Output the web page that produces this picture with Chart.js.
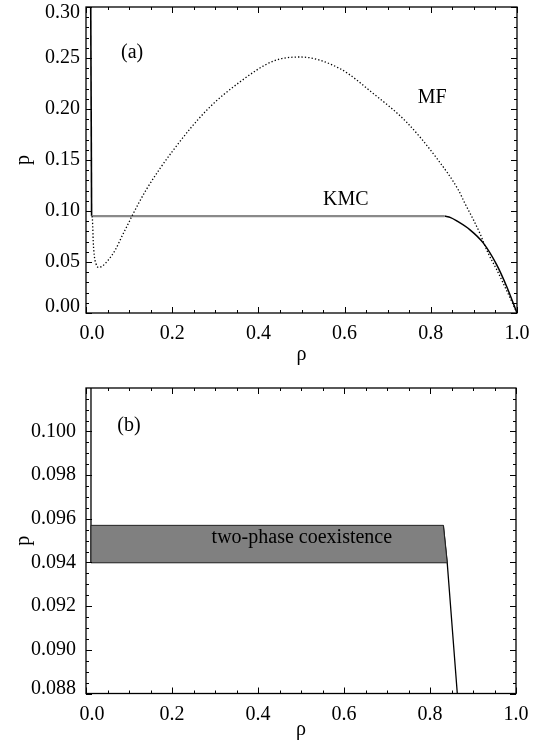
<!DOCTYPE html>
<html>
<head>
<meta charset="utf-8">
<title>p versus rho</title>
<script src="https://cdn.jsdelivr.net/npm/chart.js@4.4.1/dist/chart.umd.min.js"></script>
<style>
  html, body { margin: 0; padding: 0; background: #fff; }
  body { width: 534px; height: 746px; position: relative; overflow: hidden; }
  canvas { position: absolute; left: 0; }
  #chartA { top: 0; }
  #chartB { top: 372px; }
</style>
</head>
<body>
<canvas id="chartA" width="534" height="372"></canvas>
<canvas id="chartB" width="534" height="374"></canvas>
<script>

// ---- panel (a) data ----
// mean field curve (dotted)
var mfRho = [0.014, 0.015, 0.0168, 0.019, 0.0227, 0.029, 0.0366, 0.052, 0.068, 0.083,
             0.0985, 0.106, 0.14, 0.2026, 0.28, 0.357, 0.435, 0.497, 0.589, 0.667,
             0.744, 0.814, 0.864, 0.879, 0.899, 0.914, 0.933, 0.953, 0.976, 1.0];
var mfP   = [0.095, 0.0913, 0.070, 0.057, 0.0489, 0.0446, 0.0456, 0.0521, 0.0619, 0.0749,
             0.088, 0.0945, 0.121, 0.1597, 0.1988, 0.2265, 0.247, 0.251, 0.2396, 0.215,
             0.187, 0.1516, 0.1206, 0.1076, 0.0913, 0.078, 0.0587, 0.0424, 0.022, 0.0];

// KMC: low density branch, coexistence line, high density branch
var kmcGasRho = [0.011, 0.013];
var kmcGasP   = [0.30, 0.095];
var kmcCoexRho = [0.013, 0.832];
var kmcCoexP   = [0.095, 0.095];
var kmcDenseRho = [0.832, 0.846, 0.860, 0.891, 0.922, 0.953, 0.976, 1.0];
var kmcDenseP   = [0.095, 0.0935, 0.0903, 0.0815, 0.0685, 0.0472, 0.026, 0.0];

// ---- panel (b) data ----
var bGasRho = [0.0116, 0.0116];
var bGasP   = [0.103, 0.094];
var bBandRho = [0.0116, 0.0116, 0.831, 0.840];
var bBandP   = [0.094, 0.0957, 0.0957, 0.094];
var bLowRho = [0.0116, 0.840];
var bLowP   = [0.094, 0.094];
var bDenseRho = [0.831, 0.840, 0.8635];
var bDenseP   = [0.0957, 0.094, 0.088];

// axis ticks
var xTicksA = [0, 1, 0.2];          // min, max, step
var yTicksA = [0, 0.30, 0.05];
var xTicksB = [0, 1, 0.2];
var yTicksB = [0.088, 0.10199, 0.002];

var serif = "'Liberation Serif', 'DejaVu Serif', serif";

function pts(xs, ys) {
  var out = [];
  for (var i = 0; i < xs.length; i++) {
    out.push({x: xs[i], y: ys[i]});
  }
  return out;
}

// box round the plot and inward major/minor ticks on all four sides (IDL style)
var frameTicks = {
  id: 'frameTicks',
  afterDatasetsDraw: function(chart, args, opts) {
    var ctx = chart.ctx, a = chart.chartArea;
    var xs = chart.scales.x, ys = chart.scales.y;
    var k, k0, k1, px, len;
    ctx.save();
    ctx.strokeStyle = '#000';
    ctx.lineWidth = 1;
    ctx.beginPath();
    k0 = Math.ceil(xs.min / opts.xMinor - 1e-6);
    k1 = Math.floor(xs.max / opts.xMinor + 1e-6);
    for (k = k0; k <= k1; k++) {
      px = Math.round(xs.getPixelForValue(k * opts.xMinor)) + 0.5;
      len = (k % opts.xEvery === 0) ? 6 : 3;
      ctx.moveTo(px, a.bottom); ctx.lineTo(px, a.bottom - len);
      ctx.moveTo(px, a.top); ctx.lineTo(px, a.top + len);
    }
    k0 = Math.ceil(ys.min / opts.yMinor - 1e-6);
    k1 = Math.floor(ys.max / opts.yMinor + 1e-6);
    for (k = k0; k <= k1; k++) {
      px = Math.round(ys.getPixelForValue(k * opts.yMinor)) + 0.5;
      len = (k % opts.yEvery === 0) ? 6 : 3;
      ctx.moveTo(a.left, px); ctx.lineTo(a.left + len, px);
      ctx.moveTo(a.right, px); ctx.lineTo(a.right - len, px);
    }
    ctx.stroke();
    ctx.lineWidth = 1.3;
    ctx.strokeRect(a.left, a.top, a.right - a.left, a.bottom - a.top);
    ctx.restore();
  }
};

// nudge the labels that sit on the corners inward, like IDL does
var edgeLabels = {
  id: 'edgeLabels',
  beforeDraw: function(chart, args, opts) {
    var xi = chart.scales.x.getLabelItems();
    var yi = chart.scales.y.getLabelItems();
    if (xi.length) xi[0].options.translation[0] += opts.xFirst;
    if (yi.length) {
      yi[0].options.translation[1] += opts.yFirst;
      yi[yi.length - 1].options.translation[1] += opts.yLast;
    }
  }
};

// text labels placed in data coordinates
var textLabels = {
  id: 'textLabels',
  afterDraw: function(chart, args, opts) {
    var ctx = chart.ctx;
    ctx.save();
    ctx.fillStyle = '#000';
    ctx.font = '20px ' + serif;
    ctx.textAlign = 'center';
    ctx.textBaseline = 'middle';
    for (var i = 0; i < opts.items.length; i++) {
      var t = opts.items[i];
      ctx.fillText(t.text, chart.scales.x.getPixelForValue(t.x), chart.scales.y.getPixelForValue(t.y));
    }
    ctx.restore();
  }
};

function makeOptions(xt, yt, yDigits, pad, xHeight, yLabelPad, ticksCfg, edges, labels) {
  return {
    responsive: false,
    animation: false,
    devicePixelRatio: 1,
    events: [],
    layout: { padding: pad },
    plugins: {
      legend: { display: false },
      tooltip: { enabled: false },
      frameTicks: ticksCfg,
      edgeLabels: edges,
      textLabels: { items: labels }
    },
    scales: {
      x: {
        type: 'linear',
        min: xt[0], max: xt[1],
        grid: { display: false, drawTicks: false },
        border: { display: false },
        ticks: {
          stepSize: xt[2], includeBounds: false, padding: 9, color: '#000',
          maxRotation: 0, font: { family: serif, size: 20 },
          callback: function(v) { return v.toFixed(1); }
        },
        title: { display: true, text: 'ρ', color: '#000', font: { family: serif, size: 20 },
                 padding: { top: 0, bottom: xHeight[1] } },
        afterFit: function(s) { s.height = xHeight[0]; s.paddingLeft = 0; s.paddingRight = 0; }
      },
      y: {
        type: 'linear',
        min: yt[0], max: yt[1],
        grid: { display: false, drawTicks: false },
        border: { display: false },
        ticks: {
          stepSize: yt[2], includeBounds: false, padding: yLabelPad, color: '#000',
          font: { family: serif, size: 20 },
          callback: function(v) { return v.toFixed(yDigits); }
        },
        title: { display: true, text: 'p', color: '#000', font: { family: serif, size: 20 },
                 padding: { top: 12, bottom: 0 } },
        afterFit: function(s) { s.width = 86; s.paddingTop = 0; s.paddingBottom = 0; }
      }
    }
  };
}

var line = function(data, color, width, extra) {
  var d = { data: data, borderColor: color, borderWidth: width, showLine: true,
            pointRadius: 0, fill: false, tension: 0 };
  for (var k in extra) { d[k] = extra[k]; }
  return d;
};

// panel (a)
new Chart(document.getElementById('chartA'), {
  type: 'scatter',
  data: {
    datasets: [
      line(pts(mfRho, mfP), '#000', 1.3, { borderDash: [1.3, 2.1], cubicInterpolationMode: 'monotone' }),
      line(pts(kmcCoexRho, kmcCoexP), '#8a8a8a', 2.2, {}),
      line(pts(kmcGasRho, kmcGasP), '#000', 1.6, {}),
      line(pts(kmcDenseRho, kmcDenseP), '#000', 1.5, { cubicInterpolationMode: 'monotone' })
    ]
  },
  options: makeOptions(xTicksA, yTicksA, 2, { left: 0, top: 7, right: 17, bottom: 0 }, [59, 5], 6,
    { xMinor: 0.05, xEvery: 4, yMinor: 0.01, yEvery: 5 },
    { xFirst: 6, yFirst: -6, yLast: 6 },
    [ { text: '(a)', x: 0.107, y: 0.2556 },
      { text: 'MF',  x: 0.803, y: 0.2106 },
      { text: 'KMC', x: 0.603, y: 0.1108 } ]),
  plugins: [frameTicks, edgeLabels, textLabels]
});

// panel (b)
new Chart(document.getElementById('chartB'), {
  type: 'scatter',
  data: {
    datasets: [
      line(pts(bBandRho, bBandP), '#222', 1, { fill: { value: 0.094 }, backgroundColor: '#808080' }),
      line(pts(bLowRho, bLowP), '#000', 1.3, {}),
      line(pts(bGasRho, bGasP), '#000', 1.3, {}),
      line(pts(bDenseRho, bDenseP), '#000', 1.3, {})
    ]
  },
  options: makeOptions(xTicksB, yTicksB, 3, { left: 0, top: 16, right: 18, bottom: 0 }, [52.5, 4], 10,
    { xMinor: 0.05, xEvery: 4, yMinor: 0.0005, yEvery: 4 },
    { xFirst: 6, yFirst: -5, yLast: 0 },
    [ { text: '(b)', x: 0.100, y: 0.10025 },
      { text: 'two-phase coexistence', x: 0.502, y: 0.09514 } ]),
  plugins: [frameTicks, edgeLabels, textLabels]
});

</script>
</body>
</html>
